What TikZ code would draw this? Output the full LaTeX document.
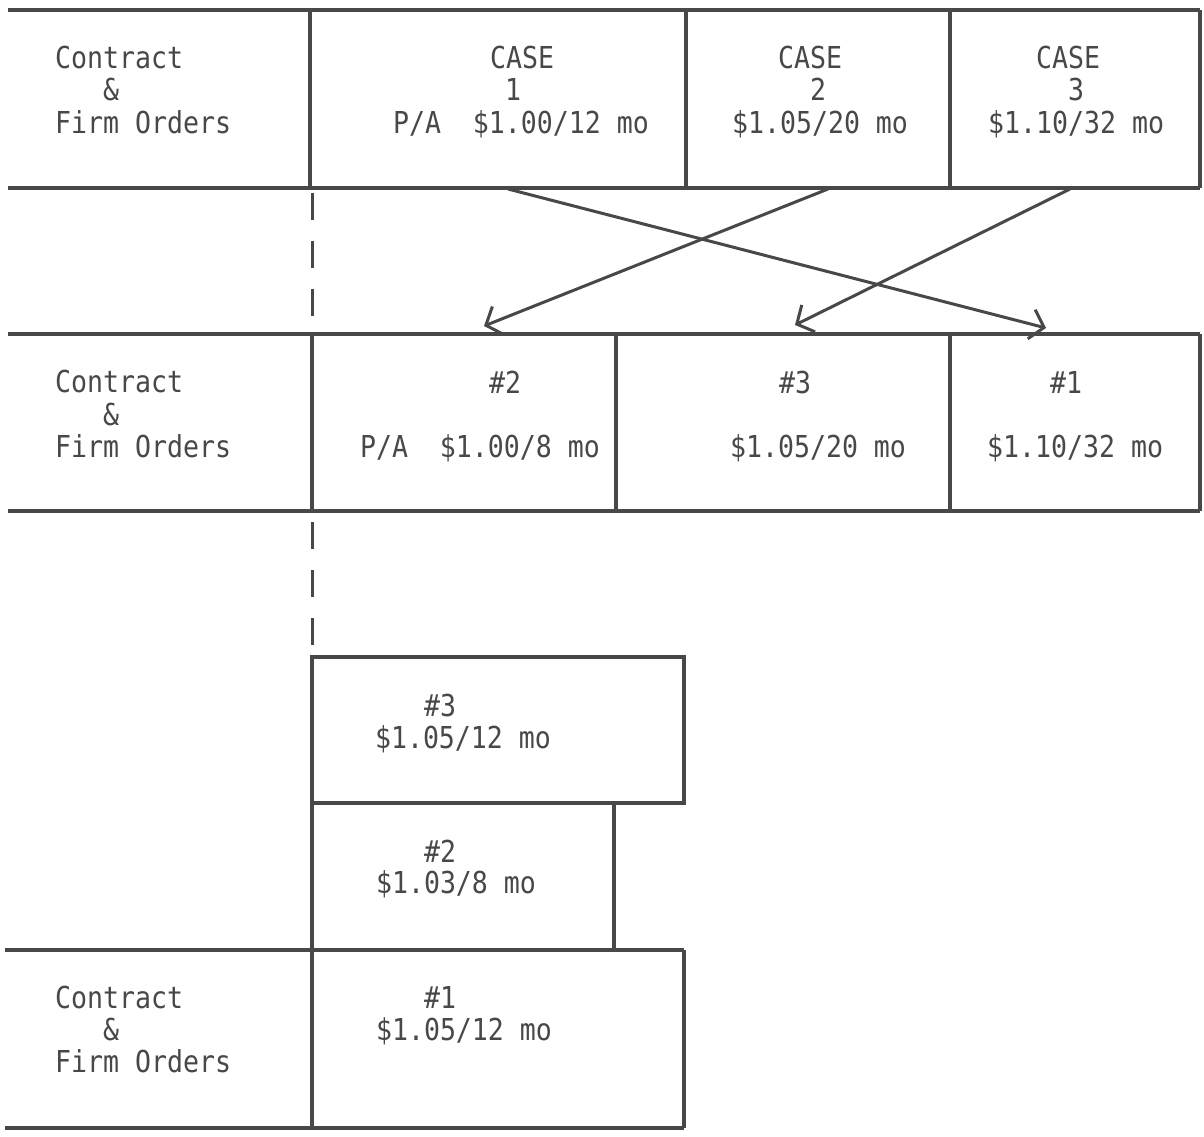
\documentclass[tikz,border=0pt]{standalone}
\usepackage{fontspec}
\newfontfamily\tw[FakeStretch=0.88]{DejaVu Sans Mono}
\usetikzlibrary{arrows.meta}
\definecolor{ink}{HTML}{484848}
\tikzset{
  rule/.style={draw=ink, line width=3.2pt},
  dashrule/.style={draw=ink, line width=3pt, dash pattern=on 27pt off 21pt},
  arrowline/.style={draw=ink, line width=3pt, -{Straight Barb[length=13pt,width=30pt,line width=3pt]}},
  lbl/.style={text=ink, inner sep=0pt, font=\tw\fontsize{30.2}{32}\selectfont},
  lw/.style={lbl, anchor=base west},
  lc/.style={lbl, anchor=base}
}
\begin{document}
\begin{tikzpicture}[x=1pt,y=-1pt]
\useasboundingbox (0,0) rectangle (1204,1136);
\fill[white] (0,0) rectangle (1204,1136);
% top row
\draw[rule] (8,10) -- (1200,10);
\draw[rule] (8,188) -- (1200,188);
\draw[rule] (310,10) -- (310,188);
\draw[rule] (686,10) -- (686,188);
\draw[rule] (950,10) -- (950,188);
\draw[rule] (1200,10) -- (1200,188);
% second row
\draw[rule] (8,334) -- (1200,334);
\draw[rule] (8,511) -- (1200,511);
\draw[rule] (312,334) -- (312,511);
\draw[rule] (616,334) -- (616,511);
\draw[rule] (950,334) -- (950,511);
\draw[rule] (1200,334) -- (1200,511);
% dashed guides
\draw[dashrule] (312,193) -- (312,316);
\draw[dashrule] (312,522) -- (312,645);
% lower stack
\draw[rule] (312,657) rectangle (684,803);
\draw[rule] (312,803) -- (312,950) -- (614,950) -- (614,803);
\draw[rule] (5,950) -- (684,950);
\draw[rule] (5,1128) -- (684,1128);
\draw[rule] (312,950) -- (312,1128);
\draw[rule] (684,950) -- (684,1128);
% arrows
\coordinate (c1) at (508,189);
\coordinate (c2) at (828,189);
\coordinate (c3) at (1070,189);
\coordinate (n1) at (1046,328);
\coordinate (n2) at (484,326);
\coordinate (n3) at (795,325);
\draw[arrowline] (c1) -- (n1);
\draw[arrowline] (c2) -- (n2);
\draw[arrowline] (c3) -- (n3);
% top row text
\node[lw] (t1a) at (55,68) {Contract};
\node[lw] (t1b) at (55,100) {\phantom{000}\&};
\node[lw] (t1c) at (55,133) {Firm Orders};
\node[lc] (k1a) at (522,68) {CASE};
\node[lc] (k1b) at (513,100) {1};
\node[lc] (k1c) at (521,133) {P/A\ \ \$1.00/12 mo};
\node[lc] (k2a) at (810,68) {CASE};
\node[lc] (k2b) at (818,100) {2};
\node[lc] (k2c) at (820,133) {\$1.05/20 mo};
\node[lc] (k3a) at (1068,68) {CASE};
\node[lc] (k3b) at (1076,100) {3};
\node[lc] (k3c) at (1076,133) {\$1.10/32 mo};
% second row text
\node[lw] (t2a) at (55,392) {Contract};
\node[lw] (t2b) at (55,425) {\phantom{000}\&};
\node[lw] (t2c) at (55,457) {Firm Orders};
\node[lc] (r2a) at (505,393) {\#2};
\node[lc] (r2b) at (480,457) {P/A\ \ \$1.00/8 mo};
\node[lc] (r3a) at (795,393) {\#3};
\node[lc] (r3b) at (818,457) {\$1.05/20 mo};
\node[lc] (r1a) at (1066,393) {\#1};
\node[lc] (r1b) at (1075,457) {\$1.10/32 mo};
% lower stack text
\node[lc] (s3a) at (440,716) {\#3};
\node[lc] (s3b) at (463,748) {\$1.05/12 mo};
\node[lc] (s2a) at (440,862) {\#2};
\node[lc] (s2b) at (456,893) {\$1.03/8 mo};
\node[lc] (s1a) at (440,1008) {\#1};
\node[lc] (s1b) at (464,1040) {\$1.05/12 mo};
\node[lw] (t3a) at (55,1008) {Contract};
\node[lw] (t3b) at (55,1040) {\phantom{000}\&};
\node[lw] (t3c) at (55,1072) {Firm Orders};
\end{tikzpicture}
\end{document}
